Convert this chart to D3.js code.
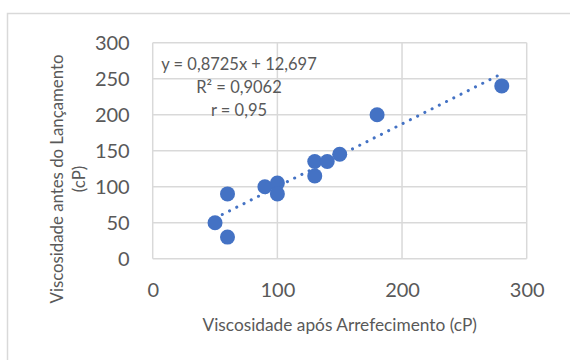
<!DOCTYPE html>
<html>
<head>
<meta charset="utf-8">
<script src="https://cdn.jsdelivr.net/npm/d3@7"></script>
<style>
  body { margin: 0; background: #fff; }
  svg { display: block; }
  text { font-family: Lato, "Open Sans", sans-serif; fill: #595959; }
</style>
</head>
<body>
<svg id="chart" width="570" height="360"></svg>
<script>
// Viscosity measurements (cP)
const afterCooling = [50, 60, 60, 90, 100, 100, 130, 130, 140, 150, 180, 280];
const beforeLaunch = [50, 30, 90, 100, 105, 90, 115, 135, 135, 145, 200, 240];

const xTicks = [0, 100, 200, 300];
const yTicks = [0, 50, 100, 150, 200, 250, 300];

// Linear trendline fitted in the spreadsheet
const trendSlope = 0.8725;
const trendIntercept = 12.697;
const trendLabels = ["y = 0,8725x + 12,697", "R² = 0,9062", "r = 0,95"];

const xTitle = "Viscosidade após Arrefecimento (cP)";
const yTitle = ["Viscosidade antes do Lançamento", "(cP)"];

const blue = "#4472C4";
const gridColor = "#d9d9d9";

const svg = d3.select("#chart");

// chart frame
svg.append("rect")
  .attr("x", 7.5).attr("y", 13.5)
  .attr("width", 700).attr("height", 500)
  .attr("fill", "none").attr("stroke", gridColor).attr("stroke-width", 1.5);

const x = d3.scaleLinear().domain([0, 300]).range([152.7, 526.7]);
const y = d3.scaleLinear().domain([0, 300]).range([258.7, 42.7]);

// gridlines
const grid = svg.append("g").attr("stroke", gridColor).attr("stroke-width", 1.5);
grid.selectAll("line.v").data(xTicks).join("line")
  .attr("x1", d => x(d)).attr("x2", d => x(d))
  .attr("y1", y(0)).attr("y2", y(300));
grid.selectAll("line.h").data(yTicks).join("line")
  .attr("x1", x(0)).attr("x2", x(300))
  .attr("y1", d => y(d)).attr("y2", d => y(d));

// axes (labels only)
const xAxis = svg.append("g")
  .attr("transform", `translate(0,${y(0)})`)
  .call(d3.axisBottom(x).tickValues(xTicks).tickSize(0).tickPadding(24).tickFormat(d3.format("d")));
const yAxis = svg.append("g")
  .attr("transform", `translate(${x(0)},0)`)
  .call(d3.axisLeft(y).tickValues(yTicks).tickSize(0).tickPadding(23).tickFormat(d3.format("d")));
[xAxis, yAxis].forEach(g => {
  g.select(".domain").remove();
  g.selectAll("text").attr("fill", "#595959").style("font-size", "20px")
    .style("font-family", "Lato, 'Open Sans', sans-serif");
});

// trendline
const [xMin, xMax] = d3.extent(afterCooling);
svg.append("line")
  .attr("x1", x(xMin)).attr("y1", y(trendSlope * xMin + trendIntercept))
  .attr("x2", x(xMax)).attr("y2", y(trendSlope * xMax + trendIntercept))
  .attr("stroke", blue).attr("stroke-width", 3)
  .attr("stroke-linecap", "round").attr("stroke-dasharray", "0.1 8");

// points
svg.append("g").selectAll("circle")
  .data(afterCooling.map((v, i) => [v, beforeLaunch[i]]))
  .join("circle")
  .attr("cx", d => x(d[0])).attr("cy", d => y(d[1]))
  .attr("r", 7.5).attr("fill", blue);

// trendline equation
svg.append("g").selectAll("text").data(trendLabels).join("text")
  .attr("x", 239).attr("y", (d, i) => 69.5 + i * 23.3)
  .attr("text-anchor", "middle").style("font-size", "16.5px")
  .text(d => d);

// axis titles
svg.append("text")
  .attr("x", (x(0) + x(300)) / 2).attr("y", 331)
  .attr("text-anchor", "middle").style("font-size", "17.3px")
  .text(xTitle);

svg.append("g").attr("transform", "translate(0,179) rotate(-90)")
  .selectAll("text").data(yTitle).join("text")
  .attr("x", 0).attr("y", (d, i) => 63 + i * 22)
  .attr("text-anchor", "middle").style("font-size", "16.8px")
  .text(d => d);
</script>
</body>
</html>
